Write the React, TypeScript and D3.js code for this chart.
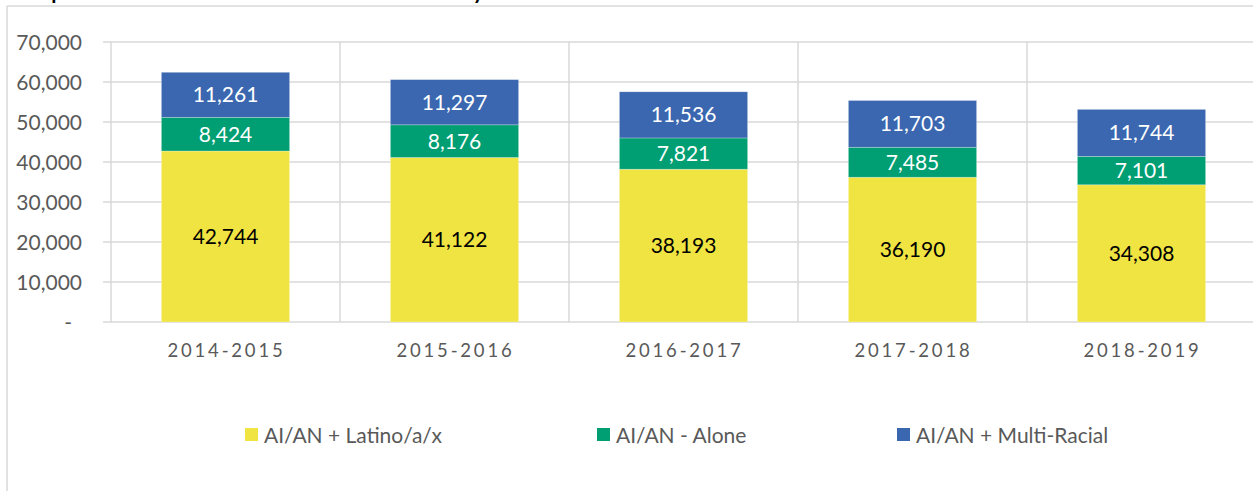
import React from "react";
import * as d3 from "d3";

const categories = ["2014-2015", "2015-2016", "2016-2017", "2017-2018", "2018-2019"];
const latino = [42744, 41122, 38193, 36190, 34308];
const alone = [8424, 8176, 7821, 7485, 7101];
const multi = [11261, 11297, 11536, 11703, 11744];
const seriesNames = ["AI/AN + Latino/a/x", "AI/AN - Alone", "AI/AN + Multi-Racial"];
const seriesColors = ["#F0E442", "#009E73", "#3A67AF"];
const labelColors = ["#000000", "#ffffff", "#ffffff"];
const yTicks = [0, 10000, 20000, 30000, 40000, 50000, 60000, 70000];
const titleText = "Comparison of Native Student Enrollment Totals by Year";

const W = 1253;
const H = 491;
const FONT = "Lato, 'Open Sans', sans-serif";

export default function App() {
  const x = d3.scaleBand<string>().domain(categories).range([111, 1256]).padding(0);
  const y = d3.scaleLinear().domain([0, 70000]).range([322, 42]);
  const barW = x.bandwidth() * 0.56;

  const table = categories.map((c, i) => ({ cat: c, s0: latino[i], s1: alone[i], s2: multi[i] }));
  const stack = d3.stack<any>().keys(["s0", "s1", "s2"]);
  const layers = stack(table);
  const fmt = d3.format(",");
  const grid = "#d9d9d9";
  const legendX = [245, 597, 897];

  return (
    <svg width={W} height={H} style={{ position: "absolute", left: 0, top: 0, background: "#fff" }} fontFamily={FONT}>
      <rect x={0} y={0} width={W} height={H} fill="#fff" />
      <text x={8} y={-1.5} fontSize={21} fontWeight="bold" fill="#000">{titleText}</text>
      {/* chart frame */}
      <line x1={7} x2={W} y1={6} y2={6} stroke={grid} strokeWidth={1.5} />
      <line x1={7} x2={7} y1={6} y2={H} stroke={grid} strokeWidth={1.5} />

      {/* horizontal gridlines with ticks */}
      {yTicks.map((t) => (
        <g key={t}>
          <line x1={103} x2={1256} y1={y(t)} y2={y(t)} stroke={grid} strokeWidth={1.5} />
          <text x={t === 0 ? 72 : 82} y={y(t)} dy="0.36em" textAnchor="end" fontSize={21} fill="#595959">
            {t === 0 ? "-" : fmt(t)}
          </text>
        </g>
      ))}
      {/* vertical category boundaries */}
      {categories.map((c) => (
        <line key={c} x1={x(c)!} x2={x(c)!} y1={y(70000)} y2={y(0)} stroke={grid} strokeWidth={1.5} />
      ))}

      {/* bars */}
      {layers.map((layer, li) => (
        <g key={li}>
          {layer.map((d, i) => {
            const cx = x(categories[i])! + x.bandwidth() / 2;
            const y0 = y(d[0]);
            const y1 = y(d[1]);
            return (
              <g key={i}>
                <rect x={cx - barW / 2} y={y1} width={barW} height={y0 - y1} fill={seriesColors[li]} stroke="#ffffff" strokeOpacity={0.35} strokeWidth={0.75} />
                <text x={cx} y={(y0 + y1) / 2} dy="0.36em" textAnchor="middle" fontSize={21} fill={labelColors[li]}>
                  {fmt(d[1] - d[0])}
                </text>
              </g>
            );
          })}
        </g>
      ))}

      {/* x labels */}
      {categories.map((c) => (
        <text key={c} x={x(c)! + x.bandwidth() / 2 + 1} y={356.5} textAnchor="middle" fontSize={18.5} letterSpacing={2.8} fill="#595959">
          {c}
        </text>
      ))}

      {/* legend */}
      {seriesNames.map((n, i) => (
        <g key={n}>
          <rect x={legendX[i]} y={428} width={13} height={13} fill={seriesColors[i]} />
          <text x={legendX[i] + 19} y={442.5} fontSize={21} fill="#595959">{n}</text>
        </g>
      ))}
    </svg>
  );
}
